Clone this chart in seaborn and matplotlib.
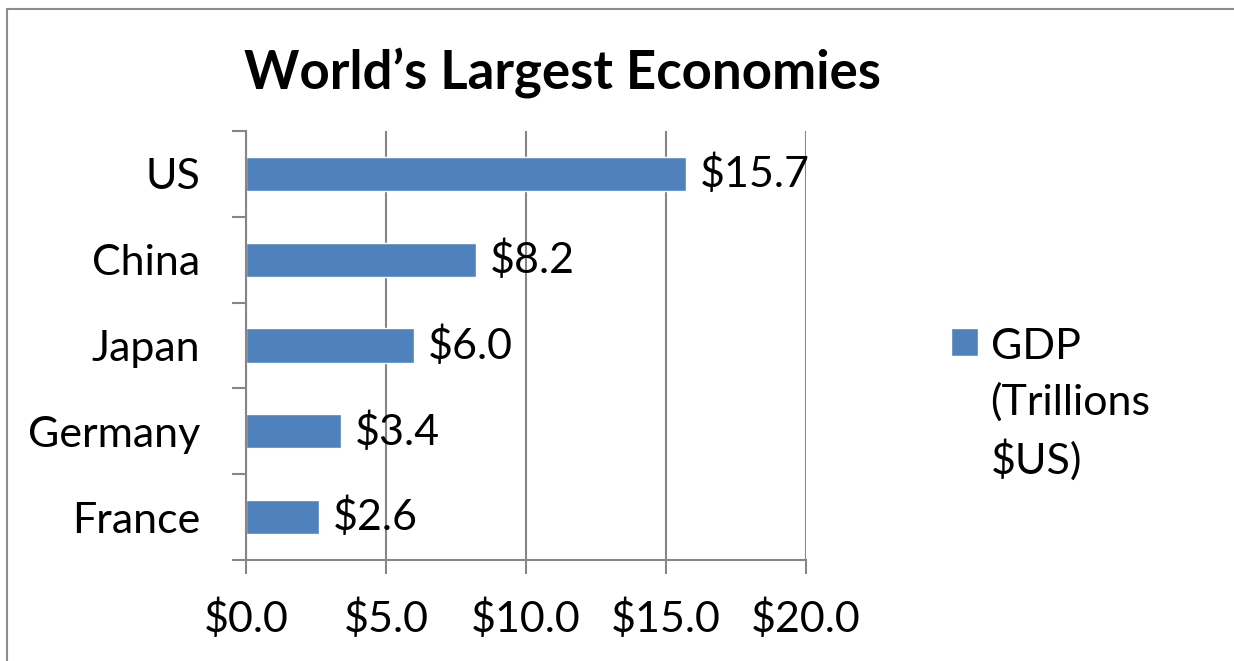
import matplotlib
matplotlib.use("Agg")
import matplotlib.pyplot as plt
import seaborn as sns
import pandas as pd
from matplotlib.patches import Rectangle, Patch
from matplotlib.ticker import FixedLocator

countries = ["US", "China", "Japan", "Germany", "France"]
gdp = [15.7, 8.2, 6.0, 3.4, 2.6]
x_ticks = [0, 5, 10, 15, 20]
x_tick_labels = ["$0.0", "$5.0", "$10.0", "$15.0", "$20.0"]
title = "World\u2019s Largest Economies"
series_name = "GDP\n(Trillions\n$US)"

BAR = "#4F81BD"
GRAY = "#868686"
W, H = 1234, 661

sns.set_theme(style="white")
plt.rcParams["font.family"] = ["Lato", "DejaVu Sans"]
plt.rcParams["text.color"] = "black"
plt.rcParams["xtick.labelcolor"] = "black"
plt.rcParams["ytick.labelcolor"] = "black"

fig = plt.figure(figsize=(W / 100, H / 100), dpi=100)
ax = fig.add_axes([246 / W, 1 - 560 / H, 560 / W, 429 / H])

df = pd.DataFrame({"country": countries, "gdp": gdp})
sns.barplot(data=df, y="country", x="gdp", orient="h", color=BAR,
            saturation=1, width=0.4, ax=ax)

ax.set_xlim(0, 20)
ax.set_ylim(len(countries) - 0.5, -0.5)
ax.set_xlabel("")
ax.set_ylabel("")

fs = 31
ax.set_xticks(x_ticks)
ax.set_xticklabels(x_tick_labels, fontsize=fs)
ax.tick_params(axis="x", direction="out", length=10, width=1.5, color=GRAY,
               pad=18, bottom=True, labelcolor="black")
ax.tick_params(axis="y", which="major", length=0, pad=33, labelsize=fs,
               labelcolor="black")
ax.yaxis.set_minor_locator(FixedLocator([i - 0.5 for i in range(len(countries) + 1)]))
ax.tick_params(axis="y", which="minor", direction="out", length=10, width=1.5,
               color=GRAY, left=True)

ax.grid(axis="x", color=GRAY, linewidth=1.5)
ax.grid(axis="y", visible=False)
ax.set_axisbelow(True)
for s in ["top", "right"]:
    ax.spines[s].set_visible(False)
for s in ["left", "bottom"]:
    ax.spines[s].set_color(GRAY)
    ax.spines[s].set_linewidth(1.5)

for c in ax.containers:
    ax.bar_label(c, labels=[f"${v:.1f}" for v in gdp], padding=10, fontsize=fs,
                 color="black")

fig.text(563 / W, 1 - 88 / H, title, ha="center", va="baseline",
         fontsize=38, fontweight="bold", color="black")

leg = ax.legend(handles=[Patch(facecolor=BAR, label=series_name)],
                loc="upper left", bbox_to_anchor=(951 / W, 1 - 328 / H),
                bbox_transform=fig.transFigure, frameon=False, borderpad=0,
                borderaxespad=0, handlelength=0.62, handleheight=0.62,
                handletextpad=0.3, fontsize=fs, labelspacing=0)
for t in leg.get_texts():
    t.set_linespacing(1.5)
    t.set_color("black")
for col in leg._legend_handle_box.get_children():
    for item in col.get_children():
        item.align = "top"

fig.add_artist(Rectangle((7 / W, -0.1), 2, (1 - 9 / H) + 0.1,
                         transform=fig.transFigure, fill=False,
                         edgecolor="#8c8c8c", linewidth=1.5))

fig.savefig("out.png", dpi=100)
